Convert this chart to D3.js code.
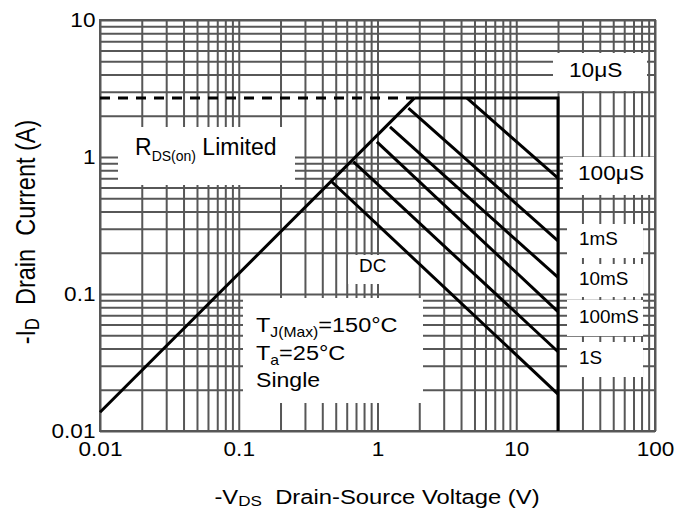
<!DOCTYPE html>
<html><head><meta charset="utf-8">
<script src="https://cdn.jsdelivr.net/npm/d3@7"></script>
<style>
body{margin:0;background:#fff}
text{font-family:Arial,"Liberation Sans",sans-serif;fill:#000;white-space:pre}
</style>
</head><body><svg id="chart" width="678" height="514"></svg>
<script>
// Axis ticks
const xTickValues = [0.01, 0.1, 1, 10, 100];
const xTickLabels = ["0.01", "0.1", "1", "10", "100"];
const yTickValues = [10, 1, 0.1, 0.01];
const yTickLabels = ["10", "1", "0.1", "0.01"];

// RDS(on) limit line (V, A) and the current / voltage limits
const rdsLimitV = [0.01, 1.85];
const rdsLimitI = [0.0137, 2.7];
const currentLimit = 2.7;
const voltageLimit = 20;

// Pulse-width boundaries: start on the RDS(on) line, end at the voltage limit
const pulseNames = ["100μS", "1mS", "10mS", "100mS", "1S", "DC"];
const pulseStartV = [4.4, 1.67, 1.23, 0.99, 0.669, 0.468];
const pulseStartI = [2.7, 2.27, 1.66, 1.29, 0.924, 0.66];
const pulseEndI = [0.70, 0.244, 0.132, 0.0743, 0.0379, 0.0186];

const svg = d3.select("#chart");
const pLeft = 100, pTop = 20, pRight = 655, pBottom = 431;
const x = d3.scaleLog().domain([0.01, 100]).range([pLeft, pRight]);
const y = d3.scaleLog().domain([0.01, 10]).range([pBottom, pTop]);
const gridColor = "#575757";

// decade grid values 1..9 x 10^n
function gridValues(lo, hi) {
  const out = [];
  for (let e = lo; e < hi; e++) for (let k = 1; k <= 9; k++) out.push(k * Math.pow(10, e));
  out.push(Math.pow(10, hi));
  return out;
}

const gx = svg.append("g").attr("transform", `translate(0,${pBottom})`)
  .call(d3.axisBottom(x).tickValues(gridValues(-2, 2)).tickSize(-(pBottom - pTop)).tickFormat(""));
const gy = svg.append("g").attr("transform", `translate(${pLeft},0)`)
  .call(d3.axisLeft(y).tickValues(gridValues(-2, 1)).tickSize(-(pRight - pLeft)).tickFormat(""));
[gx, gy].forEach(g => {
  g.select(".domain").remove();
  g.selectAll("line").attr("stroke", gridColor).attr("stroke-width", 2);
});

// white label panels over the grid
const panels = [
  [118, 127, 295, 185],   // RDS(on) Limited
  [553, 53, 647, 91],     // 10us
  [563, 157, 654, 195],   // 100us
  [567, 224, 643, 258],   // 1ms
  [567, 264, 643, 297],   // 10ms
  [567, 300, 643, 336],   // 100ms
  [567, 342, 643, 377],   // 1s
  [348, 255, 403, 284],   // DC
  [243, 298, 423, 403]    // conditions
];
svg.append("g").selectAll("rect").data(panels).join("rect")
  .attr("x", d => d[0]).attr("y", d => d[1])
  .attr("width", d => d[2] - d[0]).attr("height", d => d[3] - d[1])
  .attr("fill", "#fff");

// plot frame
svg.append("rect").attr("x", pLeft).attr("y", pTop)
  .attr("width", pRight - pLeft).attr("height", pBottom - pTop)
  .attr("fill", "none").attr("stroke", gridColor).attr("stroke-width", 2);

const line = d3.line().x(d => x(d[0])).y(d => y(d[1]));
const curves = svg.append("g").attr("fill", "none").attr("stroke", "#000").attr("stroke-width", 3);

// dashed current limit left of the RDS(on) line
curves.append("path")
  .attr("d", line([[0.01, currentLimit], [rdsLimitV[1], currentLimit]]))
  .attr("stroke-dasharray", "10,8");
// RDS(on) line
curves.append("path").attr("d", line(rdsLimitV.map((v, i) => [v, rdsLimitI[i]])));
// 10us boundary: current limit then voltage limit
curves.append("path")
  .attr("d", line([[rdsLimitV[1], currentLimit], [voltageLimit, currentLimit], [voltageLimit, 0.01]]));
// pulse boundaries
curves.selectAll(".pulse").data(pulseNames).join("path")
  .attr("class", "pulse")
  .attr("d", (d, i) => line([[pulseStartV[i], pulseStartI[i]], [voltageLimit, pulseEndI[i]]]));

// tick labels
const xl = svg.append("g").attr("transform", `translate(0,${pBottom})`)
  .call(d3.axisBottom(x).tickValues(xTickValues).tickSize(0).tickPadding(11)
    .tickFormat((d, i) => xTickLabels[i]));
const yl = svg.append("g").attr("transform", `translate(${pLeft},0)`)
  .call(d3.axisLeft(y).tickValues(yTickValues).tickSize(0).tickPadding(4)
    .tickFormat((d, i) => yTickLabels[i]));
[xl, yl].forEach(g => {
  g.select(".domain").remove();
  g.selectAll("text").attr("font-size", 20).attr("fill", "#000")
    .attr("transform", "scale(1.13,1)")
    .style("font-family", "Arial, 'Liberation Sans', sans-serif");
});

// text helper: parts = [[string, size, dy]]
function label(px, py, parts, opts = {}) {
  const t = svg.append("text")
    .attr("xml:space", "preserve")
    .attr("transform", `translate(${px},${py})${opts.rotate ? ` rotate(${opts.rotate})` : ""} scale(${opts.sx || 1},${opts.sy || 1})`)
    .attr("text-anchor", opts.anchor || "start");
  parts.forEach(p => {
    t.append("tspan").attr("font-size", p[1]).attr("dy", p[2] || 0).text(p[0]);
  });
  return t;
}

// axis titles
label(377, 504, [["-V", 19.5], ["DS", 14, 2], ["  Drain-Source Voltage (V)", 19.5, -2]], {anchor: "middle", sx: 1.22});
label(35, 232, [["-I", 23.5], ["D", 16.5, 3], ["  Drain  Current (A)", 23.5, -3]], {anchor: "middle", rotate: -90, sy: 1.2});

// region labels
label(135, 155, [["R", 23], ["DS(on)", 14, 6], [" Limited", 23, -6]]);
label(569, 77, [["10μS", 21]], {sx: 1.08});
label(578, 180, [["100μS", 21]], {sx: 1.08});
label(579, 245, [["1mS", 18]], {sx: 1.05});
label(579, 285, [["10mS", 18]], {sx: 1.05});
label(579, 323, [["100mS", 18]], {sx: 1.05});
label(579, 364, [["1S", 18]], {sx: 1.05});
label(359, 272, [["DC", 18]], {sx: 1.05});
label(256, 332, [["T", 21], ["J(Max)", 14, 5], ["=150°C", 21, -5]], {sx: 1.12});
label(256, 360, [["T", 21], ["a", 14, 5], ["=25°C", 21, -5]], {sx: 1.12});
label(256, 387, [["Single", 21]], {sx: 1.1});
</script>
</body></html>
